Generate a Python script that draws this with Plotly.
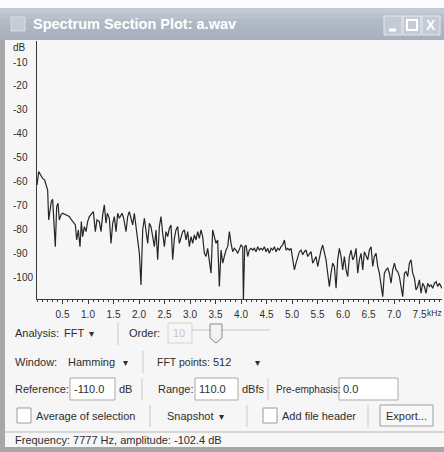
import plotly.graph_objects as go

# ---------------- data ----------------
freq_khz = [
    0.000, 0.033, 0.072, 0.111, 0.150, 0.176, 0.209, 0.229, 0.255, 0.281,
    0.307, 0.333, 0.359, 0.386, 0.412, 0.438, 0.471, 0.503, 0.536, 0.569,
    0.601, 0.634, 0.667, 0.699, 0.732, 0.752, 0.778, 0.810, 0.843, 0.869,
    0.895, 0.928, 0.961, 0.993, 1.026, 1.078, 1.105, 1.144, 1.176, 1.222,
    1.255, 1.288, 1.320, 1.353, 1.379, 1.418, 1.451, 1.484, 1.516, 1.549,
    1.582, 1.614, 1.667, 1.699, 1.745, 1.778, 1.810, 1.843, 1.876, 1.908,
    1.941, 1.974, 2.007, 2.039, 2.072, 2.105, 2.137, 2.170, 2.203, 2.235,
    2.268, 2.301, 2.333, 2.366, 2.399, 2.431, 2.464, 2.497, 2.529, 2.562,
    2.595, 2.627, 2.660, 2.693, 2.725, 2.758, 2.791, 2.824, 2.856, 2.889,
    2.922, 2.954, 2.987, 3.020, 3.052, 3.085, 3.118, 3.150, 3.183, 3.216,
    3.248, 3.281, 3.314, 3.346, 3.379, 3.412, 3.444, 3.477, 3.510, 3.542,
    3.575, 3.608, 3.641, 3.673, 3.706, 3.739, 3.771, 3.804, 3.837, 3.869,
    3.902, 3.935, 3.967, 4.000, 4.033, 4.046, 4.072, 4.098, 4.131, 4.163,
    4.196, 4.229, 4.261, 4.294, 4.327, 4.359, 4.392, 4.425, 4.458, 4.490,
    4.523, 4.556, 4.588, 4.621, 4.654, 4.686, 4.719, 4.752, 4.784, 4.817,
    4.850, 4.882, 4.915, 4.948, 4.980, 5.013, 5.046, 5.078, 5.111, 5.144,
    5.176, 5.209, 5.242, 5.275, 5.307, 5.340, 5.373, 5.405, 5.438, 5.471,
    5.503, 5.536, 5.569, 5.601, 5.634, 5.667, 5.699, 5.732, 5.765, 5.797,
    5.830, 5.863, 5.895, 5.928, 5.961, 5.993, 6.026, 6.059, 6.092, 6.124,
    6.157, 6.190, 6.222, 6.255, 6.288, 6.320, 6.353, 6.386, 6.418, 6.451,
    6.484, 6.516, 6.549, 6.582, 6.614, 6.647, 6.680, 6.712, 6.745, 6.778,
    6.810, 6.843, 6.876, 6.908, 6.941, 6.974, 7.007, 7.039, 7.072, 7.105,
    7.137, 7.170, 7.203, 7.235, 7.268, 7.301, 7.333, 7.366, 7.399, 7.431,
    7.464, 7.497, 7.529, 7.562, 7.595, 7.627, 7.660, 7.693, 7.725, 7.758,
    7.791, 7.824, 7.856, 7.889, 7.922, 7.967,
]
level_db = [
    -61.5, -55.9, -57.3, -58.7, -59.4, -61.5, -63.6, -76.1, -71.9, -68.4,
    -67.5, -76.1, -87.3, -70.5, -69.1, -76.1, -74.0, -73.3, -73.7, -74.0,
    -74.4, -74.7, -75.8, -76.8, -77.5, -78.2, -84.5, -80.3, -87.3, -76.8,
    -83.1, -78.9, -81.0, -76.8, -74.7, -73.3, -72.6, -81.0, -76.1, -76.8,
    -81.0, -74.0, -69.8, -77.5, -73.3, -75.4, -85.9, -77.5, -74.7, -81.0,
    -73.3, -75.4, -73.3, -75.4, -81.0, -74.7, -72.6, -75.4, -78.2, -73.3,
    -78.9, -85.9, -90.1, -103.3, -80.3, -75.4, -80.3, -85.9, -77.5, -78.9,
    -83.1, -87.3, -80.3, -92.8, -78.9, -74.7, -81.7, -87.3, -81.0, -83.1,
    -79.6, -78.2, -92.8, -83.8, -80.3, -78.9, -85.9, -83.1, -81.0, -80.3,
    -84.5, -81.0, -87.3, -83.1, -85.9, -82.4, -84.5, -81.0, -83.8, -80.3,
    -83.1, -90.1, -91.4, -88.0, -92.8, -98.4, -80.3, -83.1, -85.9, -84.5,
    -104.0, -88.7, -94.2, -91.4, -88.7, -87.3, -81.0, -85.9, -89.4, -88.0,
    -88.7, -90.1, -88.0, -86.6, -87.3, -110.0, -87.3, -86.6, -91.4, -88.7,
    -88.0, -88.7, -88.0, -89.4, -87.3, -88.7, -88.0, -88.7, -87.3, -89.4,
    -88.0, -90.1, -88.0, -88.7, -87.3, -89.4, -88.0, -88.7, -87.3, -86.6,
    -84.5, -88.7, -88.0, -88.7, -88.0, -92.8, -97.0, -94.2, -91.4, -89.4,
    -88.7, -90.7, -89.4, -88.7, -91.4, -90.1, -89.4, -94.2, -92.8, -91.4,
    -95.6, -91.4, -88.7, -86.6, -90.1, -92.8, -98.4, -104.0, -98.4, -94.2,
    -95.6, -104.7, -92.8, -88.0, -91.4, -97.0, -91.4, -97.0, -99.8, -91.4,
    -88.7, -92.8, -91.4, -88.0, -98.4, -92.8, -90.1, -97.0, -89.4, -91.4,
    -92.8, -88.7, -87.3, -95.6, -91.4, -90.1, -95.6, -98.4, -104.0, -108.2,
    -98.4, -97.0, -96.3, -98.4, -102.6, -97.0, -94.2, -97.0, -97.7, -99.8,
    -104.0, -108.2, -98.4, -97.7, -99.8, -94.2, -92.8, -98.4, -100.5, -105.4,
    -104.0, -101.2, -106.8, -102.6, -104.0, -106.8, -102.6, -104.0, -103.3, -104.7,
    -102.6, -101.9, -104.0, -102.6, -104.0, -105.4,
]
y_tick_values = [-10, -20, -30, -40, -50, -60, -70, -80, -90, -100]
y_tick_labels = ["-10", "-20", "-30", "-40", "-50", "-60", "-70", "-80", "-90", "-100"]
x_tick_values = [0.5, 1.0, 1.5, 2.0, 2.5, 3.0, 3.5, 4.0, 4.5, 5.0, 5.5, 6.0, 6.5, 7.0, 7.5]
x_tick_labels = ["0.5", "1.0", "1.5", "2.0", "2.5", "3.0", "3.5", "4.0", "4.5",
                 "5.0", "5.5", "6.0", "6.5", "7.0", "7.5"]

window_title = "Spectrum Section Plot: a.wav"
status_text = "Frequency: 7777 Hz, amplitude: -102.4 dB"

# ---------------- geometry helpers ----------------
W, H = 444, 452
ML, MR, MT, MB = 37, 2, 41, 153
PW, PH = W - ML - MR, H - MT - MB


def px(x):
    return (x - ML) / PW


def py(y):
    return (H - MB - y) / PH


FONT = "Liberation Sans, Arial, sans-serif"
TXT = "#2e2e2e"

fig = go.Figure()
fig.add_trace(go.Scatter(
    x=freq_khz, y=level_db, mode="lines",
    line=dict(color="#262626", width=1.2),
    hoverinfo="skip", showlegend=False,
))

shapes = []
annotations = []


def rect(x0, y0, x1, y1, fill, line=None, lw=1, layer="above"):
    shapes.append(dict(type="rect", xref="paper", yref="paper",
                       x0=px(x0), y0=py(y0), x1=px(x1), y1=py(y1),
                       fillcolor=fill, layer=layer,
                       line=dict(color=line if line else fill, width=lw if line else 0)))


def hline(x0, x1, y, color, lw=1):
    shapes.append(dict(type="line", xref="paper", yref="paper",
                       x0=px(x0), x1=px(x1), y0=py(y), y1=py(y),
                       line=dict(color=color, width=lw)))


def vline(x, y0, y1, color, lw=1):
    shapes.append(dict(type="line", xref="paper", yref="paper",
                       x0=px(x), x1=px(x), y0=py(y0), y1=py(y1),
                       line=dict(color=color, width=lw)))


def text(x, y, s, size=11, color=TXT, anchor="left", bold=False, family=FONT):
    if bold:
        s = "<b>" + s + "</b>"
    annotations.append(dict(xref="paper", yref="paper", x=px(x), y=py(y),
                            text=s, showarrow=False, xanchor=anchor, yanchor="middle",
                            font=dict(family=family, size=size, color=color)))


# page above window
rect(0, 0, 444, 8, "#fbfbfb", layer="below")
# title bar (simple vertical gradient with strips)
bar_cols = ["#c3cad4", "#b9c1cc", "#b2bac6", "#aeb6c2", "#aab3bf", "#a9b1bd"]
for i, c in enumerate(bar_cols):
    rect(0, 8 + i * 5.5, 444, 8 + (i + 1) * 5.5 + 0.5, c, layer="below")
# window frame left / bottom
rect(0, 40, 5, 452, "#a7a7a7", layer="below")
rect(0, 447, 444, 452, "#a7a7a7", layer="below")
rect(5, 40, 444, 447, "#f6f6f6", layer="below")

# title icon + text
rect(11, 17, 25, 31, "#c5ccd5", line="#d8dde4")
text(31, 24, window_title, size=14.5, color="#ffffff", bold=True)
# window buttons
for bx0, bx1 in [(384, 402), (403, 421), (422, 440)]:
    rect(bx0, 16, bx1, 35, "#c4cbd6", line="#e4e8ee")
hline(389, 396, 30, "#ffffff", 3)
rect(407, 20, 417, 30, "rgba(0,0,0,0)", line="#ffffff", lw=2)
text(431, 25.5, "X", size=14, color="#ffffff", anchor="center", bold=True)

# y axis labels (left aligned as in the dialog)
annotations.append(dict(xref="paper", yref="paper", x=px(11), y=py(47), text="dB",
                        showarrow=False, xanchor="left", yanchor="middle",
                        font=dict(family=FONT, size=10, color=TXT)))
for v, lab in zip(y_tick_values, y_tick_labels):
    annotations.append(dict(xref="paper", yref="y", x=px(11), y=v, text=lab,
                            showarrow=False, xanchor="left", yanchor="middle",
                            font=dict(family=FONT, size=10, color=TXT)))
text(444, 313, "kHz", size=8.5, anchor="right")

# ---- control rows ----
SEP = "#c9c9c9"
BOX = "#a9a9a9"
# Row 1
r1 = 333
text(13, r1, "Analysis:")
text(62, r1, "FFT")
text(91, r1, "▾", size=10, anchor="center")
vline(118, 322, 345, SEP)
text(127, r1, "Order:")
rect(168, 323, 192, 343, "#f6f6f6", line="#d2d2d2")
text(171, r1, "10", color="#c6c6c6")
hline(192, 270, 330, "#c8c8c8", 1)
shapes.append(dict(type="path", xref="paper", yref="paper",
                   path="M {a},{b} L {c},{b} L {c},{d} L {e},{f} L {a},{d} Z".format(
                       a=px(210), b=py(324), c=px(222), d=py(338), e=px(216), f=py(343)),
                   fillcolor="#f2f2f2", line=dict(color="#8a8a8a", width=1)))
# Row 2
r2 = 362
text(13, r2, "Window:")
text(66, r2, "Hamming")
text(125, r2, "▾", size=10, anchor="center")
vline(143, 351, 373, SEP)
text(155, r2, "FFT points:", size=10.5)
text(211, r2, "512")
text(257, r2, "▾", size=10, anchor="center")
# Row 3
r3 = 389
text(13, r3, "Reference:")
rect(70, 378, 115, 400, "#ffffff", line=BOX)
text(72, r3, "-110.0")
text(117, r3, "dB")
vline(142, 378, 400, SEP)
text(156, r3, "Range:")
rect(195, 378, 238, 400, "#ffffff", line=BOX)
text(197, r3, "110.0")
text(240, r3, "dBfs")
vline(268, 378, 400, SEP)
text(274, r3, "Pre-emphasis:", size=10)
rect(339, 378, 398, 400, "#ffffff", line=BOX)
text(341, r3, "0.0")
# Row 4
r4 = 416
rect(17, 408, 31, 423, "#ffffff", line="#9a9a9a")
text(34, r4, "Average of selection")
vline(150, 405, 427, SEP)
text(165, r4, "Snapshot")
text(221, r4, "▾", size=10, anchor="center")
vline(247, 405, 427, SEP)
rect(263, 408, 277, 423, "#ffffff", line="#9a9a9a")
text(280, r4, "Add file header")
vline(368, 405, 427, SEP)
rect(380, 405, 433, 426, "#f8f8f8", line="#9d9d9d")
text(406.5, r4, "Export...", anchor="center")
# status bar
hline(5, 444, 432, "#b8b8b8", 1)
text(13, 440, status_text)

fig.update_layout(
    width=W, height=H,
    margin=dict(l=ML, r=MR, t=MT, b=MB, pad=0),
    paper_bgcolor="#f6f6f6",
    plot_bgcolor="#fcfcfc",
    showlegend=False,
    shapes=shapes,
    annotations=annotations,
    xaxis=dict(
        range=[0, 7.94], showgrid=False, zeroline=False,
        showline=True, linecolor="#3a3a3a", linewidth=1,
        tickmode="array", tickvals=x_tick_values, ticktext=x_tick_labels,
        ticks="outside", ticklen=4, tickcolor="#3a3a3a", tickwidth=1,
        minor=dict(dtick=0.1, ticks="outside", ticklen=2, tickcolor="#3a3a3a", tickwidth=1),
        tickfont=dict(family=FONT, size=10, color=TXT),
        ticklabelstandoff=2,
        fixedrange=True,
    ),
    yaxis=dict(
        range=[-109.2, -1.2], showgrid=False, zeroline=False,
        showline=True, linecolor="#3a3a3a", linewidth=1,
        showticklabels=False, ticks="",
        fixedrange=True,
    ),
)

fig.write_html("out.html", config={"displayModeBar": False},
               post_script="document.body.style.margin='0';document.body.style.overflow='hidden';")
